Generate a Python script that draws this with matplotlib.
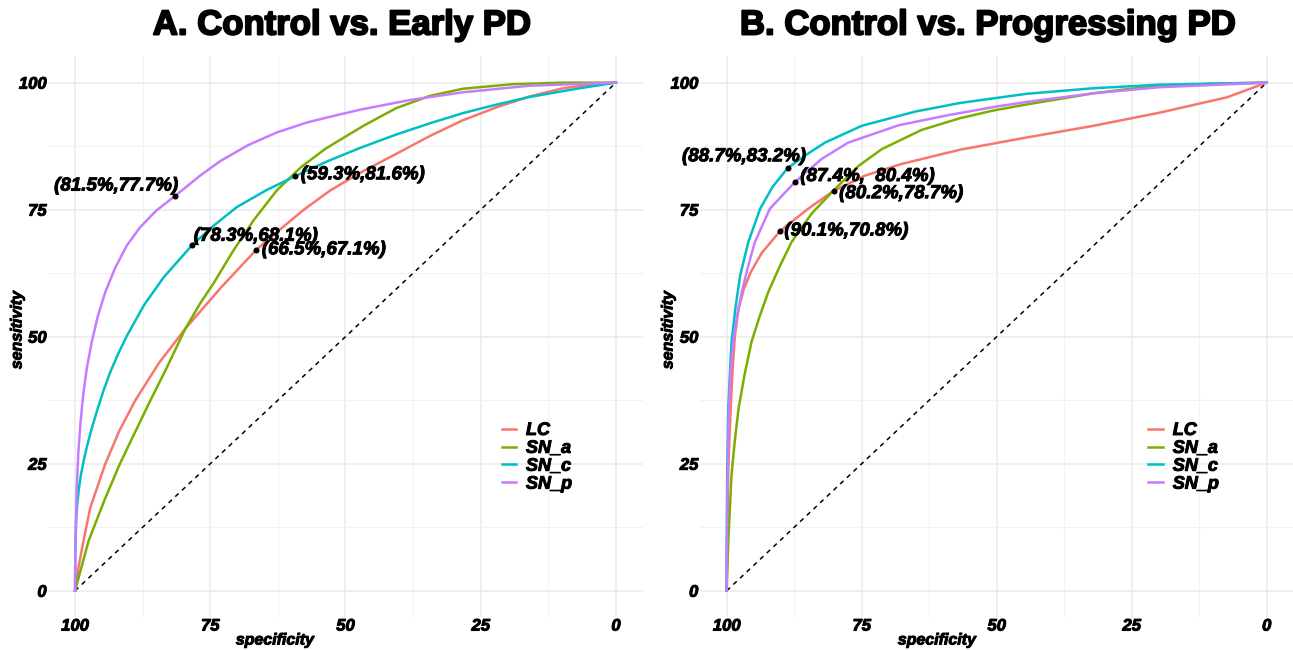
import matplotlib
matplotlib.use("Agg")
import matplotlib.pyplot as plt
import matplotlib.patheffects as pe

plt.rcParams['font.family'] = ['Liberation Sans', 'DejaVu Sans']

# ggplot default hue palette
colors = {"LC": "#F8766D", "SN_a": "#7CAE00", "SN_c": "#00BFC4", "SN_p": "#C77CFF"}
series_names = ["LC", "SN_a", "SN_c", "SN_p"]

# ---- Panel A: Control vs. Early PD (specificity, sensitivity)
a_lc_spec = [100, 99.3, 98.4, 97.2, 94.4, 91.8, 88.9, 84.5, 79.6, 73.0, 66.5, 62.0, 57.7, 52.8, 46.7, 40.6, 34.4, 28.3, 22.2, 15.9, 9.8, 4.0, 0]
a_lc_sens = [0, 5.0, 10.0, 16.3, 25.0, 31.5, 37.4, 44.8, 51.6, 59.7, 67.1, 71.2, 75.0, 78.8, 82.6, 86.0, 89.5, 92.6, 95.1, 97.3, 98.9, 99.7, 100]
a_sna_spec = [100, 97.5, 94.5, 91.7, 89.0, 86.1, 83.0, 79.6, 76.9, 74.4, 70.7, 67.0, 62.7, 58.3, 53.7, 46.7, 40.6, 34.4, 28.3, 19.1, 10.0, 0]
a_sna_sens = [0, 9.8, 18.0, 25.0, 31.0, 37.4, 44.0, 51.6, 56.5, 60.5, 67.0, 72.9, 78.8, 83.3, 87.0, 91.5, 95.0, 97.4, 98.8, 99.7, 100, 100]
a_snc_spec = [100, 99.95, 99.8, 99.6, 99.3, 98.9, 98.4, 97.8, 96.9, 95.8, 94.7, 93.5, 92.0, 90.4, 87.2, 83.6, 78.3, 74.2, 70.1, 64.7, 59.3, 53.4, 47.2, 40.6, 34.4, 28.3, 22.0, 15.9, 6.7, 0]
a_snc_sens = [0, 8.0, 14.0, 17.0, 20.0, 22.9, 25.6, 28.4, 32.0, 35.9, 39.5, 43.0, 46.7, 50.2, 56.3, 61.7, 68.1, 72.0, 75.5, 78.8, 81.6, 84.5, 87.2, 89.8, 92.0, 94.0, 95.7, 97.2, 98.9, 100]
a_snp_spec = [100, 99.95, 99.85, 99.7, 99.4, 99.0, 98.5, 97.8, 96.9, 95.8, 94.4, 92.6, 90.4, 88.0, 85.0, 81.5, 77.0, 73.1, 68.0, 62.7, 57.0, 52.8, 47.2, 38.0, 28.3, 15.9, 0]
a_snp_sens = [0, 6.0, 12.0, 20.0, 27.0, 33.0, 38.5, 44.0, 49.0, 54.0, 58.8, 63.5, 68.0, 71.5, 74.8, 77.7, 81.6, 84.6, 87.7, 90.2, 92.2, 93.3, 94.7, 96.6, 98.1, 99.4, 100]

# ---- Panel B: Control vs. Progressing PD
b_lc_spec = [100, 99.95, 99.85, 99.7, 99.5, 99.0, 98.5, 97.8, 96.8, 95.5, 93.5, 90.1, 84.9, 80.2, 74.4, 67.6, 56.8, 44.5, 32.1, 19.8, 7.4, 0]
b_lc_sens = [0, 8.0, 16.3, 24.0, 30.0, 42.0, 50.0, 55.5, 59.5, 62.8, 66.5, 70.8, 75.2, 78.7, 81.7, 84.0, 86.8, 89.2, 91.5, 94.1, 97.1, 100]
b_sna_spec = [100, 99.85, 99.7, 99.4, 99.1, 98.5, 97.8, 96.7, 95.4, 93.9, 92.3, 90.2, 88.0, 84.3, 80.2, 75.6, 71.3, 63.9, 56.8, 50.7, 44.5, 38.3, 32.1, 26.0, 19.8, 10.0, 0]
b_sna_sens = [0, 5.0, 9.8, 16.5, 22.9, 29.5, 35.9, 42.5, 49.0, 54.0, 58.8, 63.8, 68.6, 74.2, 78.8, 83.6, 86.9, 90.7, 93.0, 94.5, 95.7, 96.8, 97.9, 98.7, 99.3, 99.8, 100]
b_snc_spec = [100, 99.98, 99.95, 99.9, 99.8, 99.7, 99.4, 99.1, 98.4, 97.5, 96.0, 93.8, 91.5, 88.7, 85.0, 81.8, 75.0, 65.1, 56.8, 44.5, 32.1, 19.8, 0]
b_snc_sens = [0, 8.0, 16.3, 24.0, 30.0, 35.9, 43.0, 49.0, 55.5, 62.1, 68.6, 75.2, 79.5, 83.2, 86.0, 88.2, 91.5, 94.3, 96.0, 97.8, 98.9, 99.6, 100]
b_snp_spec = [100, 99.98, 99.95, 99.9, 99.75, 99.6, 99.3, 98.8, 98.1, 97.2, 96.1, 94.8, 92.0, 87.4, 82.4, 77.5, 68.2, 59.0, 50.0, 44.5, 32.1, 19.8, 0]
b_snp_sens = [0, 6.0, 12.0, 18.0, 27.0, 35.9, 43.0, 49.0, 54.0, 58.8, 63.6, 68.6, 75.2, 80.4, 85.0, 88.2, 91.6, 93.6, 95.3, 96.2, 97.9, 99.1, 100]

# annotated cut-off points
a_pts_spec = [81.5, 59.3, 78.3, 66.5]
a_pts_sens = [77.7, 81.6, 68.1, 67.1]
a_pts_text = ["(81.5%,77.7%)", "(59.3%,81.6%)", "(78.3%,68.1%)", "(66.5%,67.1%)"]
b_pts_spec = [88.7, 87.4, 80.2, 90.1]
b_pts_sens = [83.2, 80.4, 78.7, 70.8]
b_pts_text = ["(88.7%,83.2%)", "(87.4%,  80.4%)", "(80.2%,78.7%)", "(90.1%,70.8%)"]

ticks = [0, 25, 50, 75, 100]
minor = [12.5, 37.5, 62.5, 87.5]

W, H = 1293, 650
heavy = [pe.withStroke(linewidth=0.7, foreground="black")]
heavy_title = [pe.withStroke(linewidth=1.4, foreground="black")]

panels = [
    dict(title="A. Control vs. Early PD", rect=[48 / W, 0.0505, 595 / W, 0.863], title_x=342,
         curves={"LC": (a_lc_spec, a_lc_sens), "SN_a": (a_sna_spec, a_sna_sens),
                 "SN_c": (a_snc_spec, a_snc_sens), "SN_p": (a_snp_spec, a_snp_sens)},
         pts=(a_pts_spec, a_pts_sens, a_pts_text),
         # (ha, va, dx, dy) offsets in points for each label
         lab=[("right", "bottom", 2, 1), ("left", "center", 4, 1), ("left", "bottom", 1, 0), ("left", "center", 4, 0)],
         xlab=275, ylab=17, leg_x=0.735),
    dict(title="B. Control vs. Progressing PD", rect=[699.7 / W, 0.0505, 594 / W, 0.863], title_x=988,
         curves={"LC": (b_lc_spec, b_lc_sens), "SN_a": (b_sna_spec, b_sna_sens),
                 "SN_c": (b_snc_spec, b_snc_sens), "SN_p": (b_snp_spec, b_snp_sens)},
         pts=(b_pts_spec, b_pts_sens, b_pts_text),
         lab=[("right", "bottom", 13, 2), ("left", "bottom", 4, -2), ("left", "center", 4, -2), ("left", "center", 3, 0)],
         xlab=937, ylab=668, leg_x=0.728),
]

fig = plt.figure(figsize=(W / 100, H / 100), dpi=100)

for p in panels:
    ax = fig.add_axes(p["rect"])
    ax.set_xlim(105, -5)
    ax.set_ylim(-5.2, 105.2)
    for s in ax.spines.values():
        s.set_visible(False)
    ax.set_xticks(ticks)
    ax.set_yticks(ticks)
    ax.set_xticks(minor, minor=True)
    ax.set_yticks(minor, minor=True)
    ax.set_xticklabels([str(t) for t in ticks])
    ax.set_yticklabels([str(t) for t in ticks])
    ax.tick_params(which="both", length=0)
    ax.tick_params(axis="x", pad=1)
    ax.tick_params(axis="y", pad=1)
    for lbl in ax.get_xticklabels() + ax.get_yticklabels():
        lbl.set_fontweight("bold")
        lbl.set_fontstyle("italic")
        lbl.set_fontsize(12)
        lbl.set_path_effects(heavy)
    ax.grid(which="major", color="#EBEBEB", lw=1.1)
    ax.grid(which="minor", color="#F2F2F2", lw=0.8)
    ax.set_axisbelow(True)

    ax.plot([100, 0], [0, 100], ls=(0, (3, 3)), color="black", lw=1.1, zorder=2)
    for name in series_names:
        xs, ys = p["curves"][name]
        ax.plot(xs, ys, color=colors[name], lw=1.8, label=name, zorder=3,
                solid_joinstyle="round")

    px, py, pt = p["pts"]
    ax.scatter(px, py, s=11, color="black", zorder=5)
    for x, y, t, (ha, va, dx, dy) in zip(px, py, pt, p["lab"]):
        ax.annotate(t, (x, y), xytext=(dx, dy), textcoords="offset points", ha=ha, va=va,
                    fontsize=13.5, fontweight="bold", fontstyle="italic", zorder=6,
                    path_effects=heavy)

    fig.text(p["title_x"] / W, 1 - 25 / H, p["title"], ha="center", va="center",
             fontsize=25, fontweight="bold", path_effects=heavy_title)
    fig.text(p["xlab"] / W, 1 - 640 / H, "specificity", ha="center", va="center",
             fontsize=11.5, fontweight="bold", fontstyle="italic", path_effects=heavy)
    fig.text(p["ylab"] / W, 1 - 330 / H, "sensitivity", ha="center", va="center", rotation=90,
             fontsize=11.5, fontweight="bold", fontstyle="italic", path_effects=heavy)

    leg = ax.legend(loc="upper left", bbox_to_anchor=(p["leg_x"], 0.377), frameon=False,
                    handlelength=0.8, handletextpad=0.55, labelspacing=0.05,
                    prop=dict(size=13, weight="bold", style="italic"))
    for h in leg.get_lines():
        h.set_linewidth(1.8)
    for t in leg.get_texts():
        t.set_path_effects(heavy)

fig.savefig("out.png", dpi=100, facecolor="white")
